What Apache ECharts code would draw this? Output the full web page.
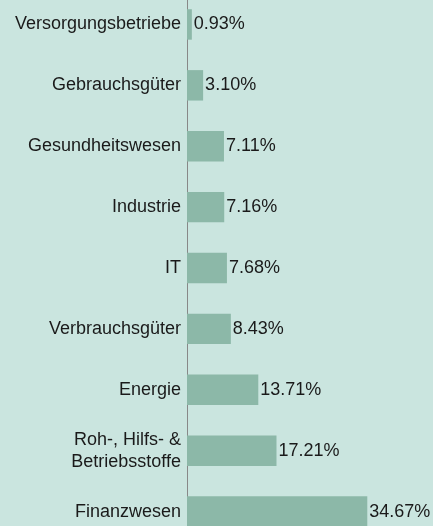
<!DOCTYPE html>
<html>
<head>
<meta charset="utf-8">
<script src="https://cdn.jsdelivr.net/npm/echarts@6/dist/echarts.min.js"></script>
<style>
  html, body { margin: 0; padding: 0; background: #cae5df; overflow: hidden; }
  #chart { width: 433px; height: 548px; position: relative; top: -6px; }
</style>
</head>
<body>
<div id="chart"></div>
<script>
var sectors = [
    'Versorgungsbetriebe', 'Gebrauchsgüter', 'Gesundheitswesen', 'Industrie', 'IT',
    'Verbrauchsgüter', 'Energie', 'Roh-, Hilfs- &\nBetriebsstoffe', 'Finanzwesen'
];
var weights = [0.93, 3.10, 7.11, 7.16, 7.68, 8.43, 13.71, 17.21, 34.67];

var myChart = echarts.init(document.getElementById('chart'), null, { renderer: 'canvas' });

// plot area is taller than the window: the top and bottom bands are cut off in the original
var option = {
    backgroundColor: '#cae5df',
    textStyle: { fontFamily: 'Liberation Sans, Arial, sans-serif' },
    grid: {
        left: 187,
        right: 38,
        top: 0,
        bottom: 0,
        containLabel: false
    },
    xAxis: {
        type: 'value',
        min: 0,
        max: 40,
        show: false
    },
    yAxis: {
        type: 'category',
        inverse: true,
        data: sectors,
        axisLine: { lineStyle: { color: '#888888', width: 1 } },
        axisTick: { show: false },
        axisLabel: {
            color: '#1a1a1a',
            fontSize: 18,
            margin: 6,
            lineHeight: 22,
            align: 'right'
        }
    },
    series: [
        {
            type: 'bar',
            data: weights,
            barWidth: '50%',
            itemStyle: { color: '#8cb8a8' },
            label: {
                show: true,
                position: 'right',
                distance: 2,
                color: '#1a1a1a',
                fontSize: 18,
                formatter: function (p) {
                    return p.value.toFixed(2) + '%';
                }
            },
            silent: true
        }
    ],
    animation: false
};

myChart.setOption(option);
window.addEventListener('resize', function () {
    myChart.resize();
});
</script>
</body>
</html>
